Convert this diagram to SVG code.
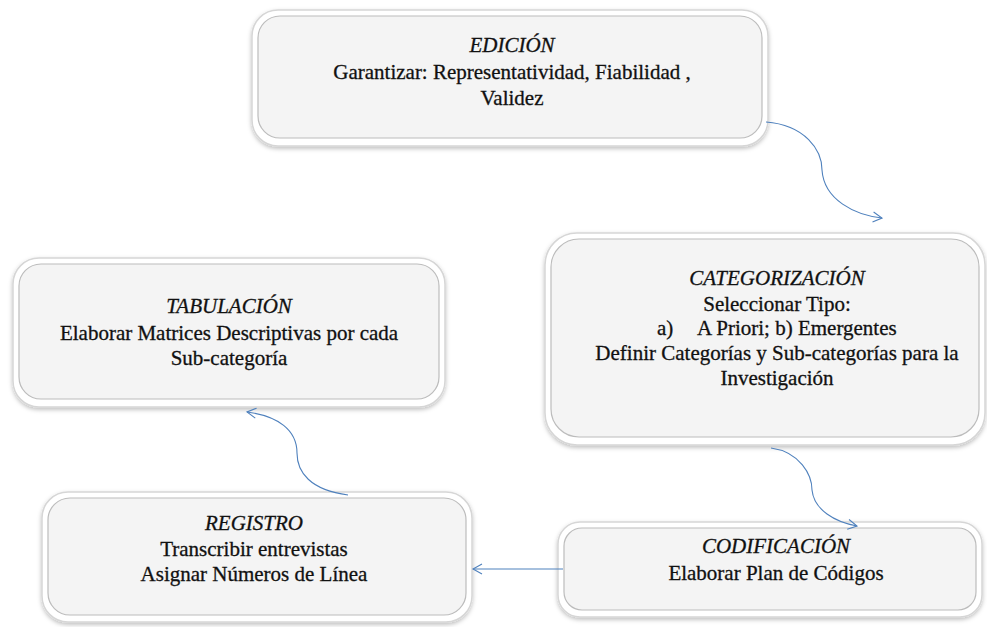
<svg xmlns="http://www.w3.org/2000/svg" width="987" height="627" viewBox="0 0 987 627">
<defs>
<style>
.outer{fill:#ffffff;stroke:#d6d6d6;stroke-width:1.5}
.inner{fill:#f4f4f4;stroke:#bcbcbc;stroke-width:1.2}
.t{font-family:"Liberation Serif","Times New Roman",serif;font-size:21px;fill:#111;stroke:#111;stroke-width:0.3;text-anchor:middle}
.h{font-style:italic}
.s{text-anchor:start}
.c{fill:none;stroke:#4f81bd;stroke-width:1.1;marker-end:url(#ah)}
</style>
<marker id="ah" viewBox="0 0 12 12" refX="10" refY="6" markerWidth="12" markerHeight="12" markerUnits="userSpaceOnUse" orient="auto">
<path d="M1,1 L10,6 L1,11" fill="none" stroke="#4f81bd" stroke-width="1.1"/>
</marker>
<filter id="sh" x="-5%" y="-5%" width="110%" height="115%">
<feDropShadow dx="0" dy="2" stdDeviation="2" flood-color="#000" flood-opacity="0.25"/>
</filter>
<linearGradient id="ig" x1="0" y1="0" x2="0" y2="1">
<stop offset="0" stop-color="#ececec"/>
<stop offset="0.08" stop-color="#f5f5f5"/>
<stop offset="0.9" stop-color="#f5f5f5"/>
<stop offset="1" stop-color="#d8d8d8"/>
</linearGradient>
</defs>

<g id="edicion">
<rect class="outer" x="252" y="10" width="516" height="136" rx="26" filter="url(#sh)"/>
<rect class="inner" x="258" y="16" width="504" height="122" rx="22" fill="url(#ig)"/>
<text class="t h" x="512" y="52">EDICIÓN</text>
<text class="t" x="512" y="79">Garantizar: Representatividad, Fiabilidad ,</text>
<text class="t" x="512" y="105">Validez</text>
</g>

<g id="categorizacion">
<rect class="outer" x="545" y="233" width="440" height="212" rx="32" filter="url(#sh)"/>
<rect class="inner" x="551" y="239" width="428" height="198" rx="28" fill="url(#ig)"/>
<text class="t h" x="777" y="285">CATEGORIZACIÓN</text>
<text class="t" x="777" y="311">Seleccionar Tipo:</text>
<text class="t s" x="657" y="335">a)<tspan x="697">A Priori; b) Emergentes</tspan></text>
<text class="t" x="777" y="360">Definir Categorías y Sub-categorías para la</text>
<text class="t" x="777" y="385">Investigación</text>
</g>

<g id="tabulacion">
<rect class="outer" x="13" y="258" width="432" height="149" rx="26" filter="url(#sh)"/>
<rect class="inner" x="19" y="264" width="420" height="135" rx="22" fill="url(#ig)"/>
<text class="t h" x="229" y="313">TABULACIÓN</text>
<text class="t" x="229" y="340">Elaborar Matrices Descriptivas por cada</text>
<text class="t" x="229" y="365">Sub-categoría</text>
</g>

<g id="registro">
<rect class="outer" x="42" y="492" width="430" height="130" rx="26" filter="url(#sh)"/>
<rect class="inner" x="48" y="498" width="418" height="117" rx="22" fill="url(#ig)"/>
<text class="t h" x="254" y="530">REGISTRO</text>
<text class="t" x="254" y="556">Transcribir entrevistas</text>
<text class="t" x="254" y="581">Asignar Números de Línea</text>
</g>

<g id="codificacion">
<rect class="outer" x="558" y="522" width="424" height="95" rx="22" filter="url(#sh)"/>
<rect class="inner" x="564" y="528" width="412" height="82" rx="18" fill="url(#ig)"/>
<text class="t h" x="776" y="553">CODIFICACIÓN</text>
<text class="t" x="776" y="580">Elaborar Plan de Códigos</text>
</g>

<g id="connectors">
<path class="c" d="M766,122 C805,125 822,150 822,170 C824,200 855,215 882,218"/>
<path class="c" d="M771,448 C800,452 812,475 812,490 C814,510 835,522 857,526"/>
<path class="c" d="M563,569 L473,569"/>
<path class="c" d="M348,495 C310,490 297,472 297,453 C297,430 278,416 247,412"/>
</g>
</svg>
